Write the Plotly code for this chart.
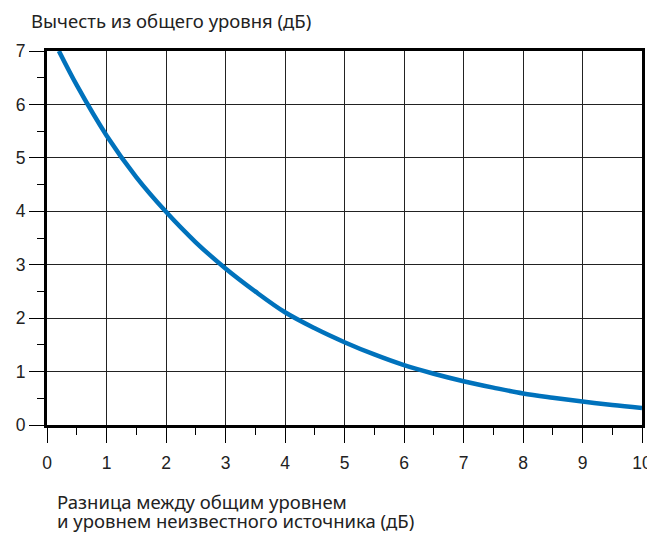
import plotly.graph_objects as go

# Data
level_difference = [0.2, 0.5, 1, 1.5, 2, 2.5, 3, 3.5, 4, 4.5, 5, 5.5, 6, 6.5, 7, 7.5, 8, 8.5, 9, 9.5, 10]
subtract_db = [7.0, 6.36, 5.42, 4.64, 3.99, 3.42, 2.93, 2.50, 2.11, 1.81, 1.55, 1.32, 1.12, 0.96, 0.82, 0.70, 0.59, 0.51, 0.44, 0.375, 0.32]

x_ticks = [0, 1, 2, 3, 4, 5, 6, 7, 8, 9, 10]
y_ticks = [0, 1, 2, 3, 4, 5, 6, 7]

y_title = "Вычесть из общего уровня (дБ)"
x_title_lines = ["Разница между общим уровнем", "и уровнем неизвестного источника (дБ)"]

fig = go.Figure()
fig.add_trace(go.Scatter(
    x=level_difference, y=subtract_db, mode="lines",
    line=dict(color="#0072BC", width=4.5, shape="spline", smoothing=1.0),
    hoverinfo="skip", showlegend=False,
))

axis_common = dict(
    showline=True, linecolor="black", linewidth=3, mirror=True,
    showgrid=True, gridcolor="#222222", gridwidth=1,
    zeroline=False, automargin=False,
    ticks="outside", ticklen=15, tickwidth=1, tickcolor="black",
    tickfont=dict(family="Liberation Sans, Arial, sans-serif", size=17.5, color="#222"),
)

fig.update_xaxes(
    range=[0, 10], tickvals=x_ticks, ticktext=[str(v) for v in x_ticks],
    minor=dict(dtick=0.5, ticks="outside", ticklen=7, tickcolor="black", tickwidth=1, showgrid=False),
    ticklabelstandoff=5,
    **axis_common,
)
fig.update_yaxes(
    range=[0, 7], tickvals=y_ticks, ticktext=[str(v) for v in y_ticks],
    minor=dict(dtick=0.5, ticks="outside", ticklen=7, tickcolor="black", tickwidth=1, showgrid=False),
    ticklabelstandoff=0,
    **axis_common,
)

title_font = dict(family="Noto Sans, sans-serif", size=18.5, color="#222")
fig.add_annotation(
    text=y_title, xref="paper", yref="paper", x=-0.0302, y=1.081,
    xanchor="left", yanchor="middle", showarrow=False, font=title_font,
)
for line_text, yp in zip(x_title_lines, [-0.2044, -0.2551]):
    fig.add_annotation(
        text=line_text, xref="paper", yref="paper", x=0.0151, y=yp,
        xanchor="left", yanchor="middle", showarrow=False, font=title_font,
        borderpad=0,
    )

fig.update_layout(
    width=647, height=524,
    margin=dict(l=39, r=13, t=43, b=107),
    plot_bgcolor="white", paper_bgcolor="white",
)

fig.write_html("out.html")
